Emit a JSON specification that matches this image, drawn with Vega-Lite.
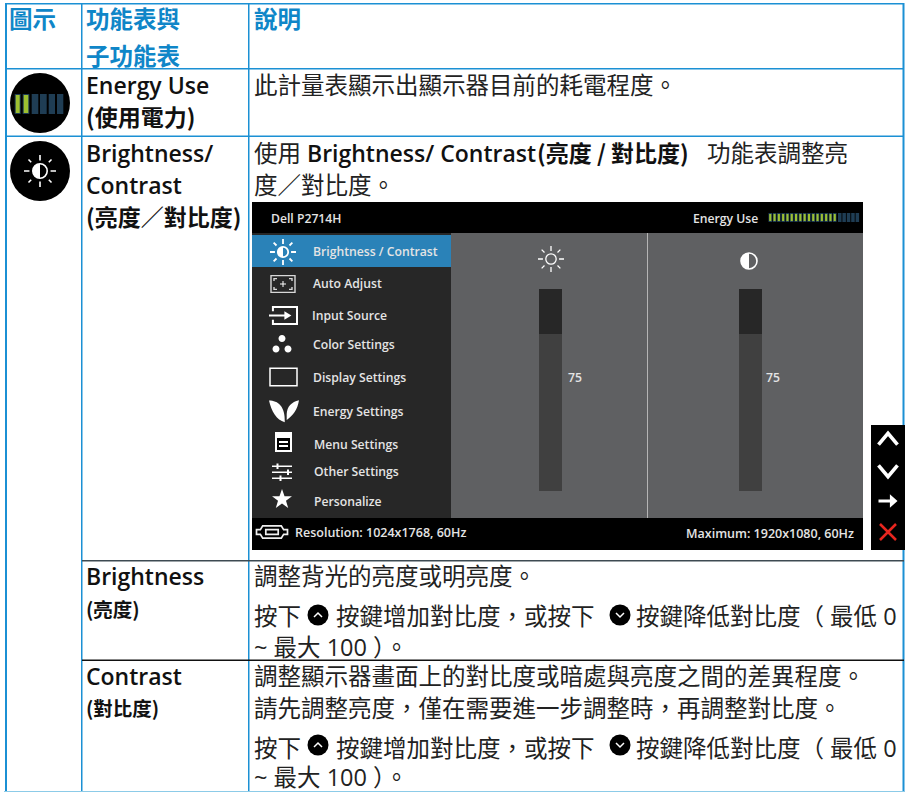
{"$schema":"https://vega.github.io/schema/vega-lite/v6.json","width":909,"height":792,"padding":0,"autosize":{"type":"fit","contains":"padding"},"background":"white","config":{"view":{"stroke":null}},
"datasets":{
"rects":[
{"part":"tableBlue","x":5,"x2":904,"y":3,"y2":4.5},
{"part":"tableBlue","x":5,"x2":904,"y":68,"y2":69.5},
{"part":"tableBlue","x":5,"x2":904,"y":135.5,"y2":137},
{"part":"tableBlue","x":5,"x2":7,"y":3,"y2":792},
{"part":"tableBlue","x":81,"x2":82.5,"y":3,"y2":792},
{"part":"tableBlue","x":248,"x2":249.5,"y":3,"y2":792},
{"part":"tableBlue","x":902.5,"x2":904.5,"y":3,"y2":792},
{"part":"tableLight","x":4,"x2":904,"y":791,"y2":792},
{"part":"rowDark","x":82,"x2":904,"y":560,"y2":561.5},
{"part":"rowBlack","x":82,"x2":904,"y":659.5,"y2":661},
{"part":"black","x":252,"x2":863,"y":202,"y2":233},
{"part":"black","x":252,"x2":863,"y":518,"y2":550},
{"part":"menu","x":252,"x2":451,"y":233,"y2":518},
{"part":"panel","x":451,"x2":863,"y":233,"y2":518},
{"part":"highlight","x":252,"x2":451,"y":235,"y2":267},
{"part":"divider","x":647,"x2":648,"y":233,"y2":518},
{"part":"trackTop","x":539,"x2":562,"y":289,"y2":334},
{"part":"track","x":539,"x2":562,"y":334,"y2":491},
{"part":"trackTop","x":739,"x2":762,"y":289,"y2":334},
{"part":"track","x":739,"x2":762,"y":334,"y2":491},
{"part":"black","x":871,"x2":905,"y":425,"y2":550},
{"part":"dimBlue","x":14.7,"x2":20.7,"y":94,"y2":114},
{"part":"green","x":15.7,"x2":19.7,"y":95,"y2":113},
{"part":"dimBlue","x":22.7,"x2":29.3,"y":94,"y2":114},
{"part":"green","x":23.7,"x2":28.3,"y":95,"y2":113},
{"part":"dimBlue","x":31.7,"x2":38.3,"y":94,"y2":114},
{"part":"dimBlue","x":40,"x2":46.7,"y":94,"y2":114},
{"part":"dimBlue","x":48.7,"x2":55,"y":94,"y2":114},
{"part":"dimBlue","x":57,"x2":63.3,"y":94,"y2":114},
{"part":"dimBlue","x":768.5,"x2":772,"y":213,"y2":222},
{"part":"dimBlue","x":772.8,"x2":776.3,"y":213,"y2":222},
{"part":"dimBlue","x":777.1,"x2":780.6,"y":213,"y2":222},
{"part":"dimBlue","x":781.4,"x2":784.9,"y":213,"y2":222},
{"part":"dimBlue","x":785.7,"x2":789.2,"y":213,"y2":222},
{"part":"dimBlue","x":790,"x2":793.5,"y":213,"y2":222},
{"part":"dimBlue","x":794.3,"x2":797.8,"y":213,"y2":222},
{"part":"dimBlue","x":798.6,"x2":802.1,"y":213,"y2":222},
{"part":"dimBlue","x":802.9,"x2":806.4,"y":213,"y2":222},
{"part":"dimBlue","x":807.2,"x2":810.7,"y":213,"y2":222},
{"part":"dimBlue","x":811.5,"x2":815,"y":213,"y2":222},
{"part":"dimBlue","x":815.8,"x2":819.3,"y":213,"y2":222},
{"part":"dimBlue","x":820.1,"x2":823.6,"y":213,"y2":222},
{"part":"dimBlue","x":824.4,"x2":827.9,"y":213,"y2":222},
{"part":"dimBlue","x":828.7,"x2":832.2,"y":213,"y2":222},
{"part":"dimBlue","x":833,"x2":836.5,"y":213,"y2":222},
{"part":"dimBlue","x":838,"x2":841.5,"y":213,"y2":222},
{"part":"dimBlue","x":842.4,"x2":845.9,"y":213,"y2":222},
{"part":"dimBlue","x":846.8,"x2":850.3,"y":213,"y2":222},
{"part":"dimBlue","x":851.2,"x2":854.7,"y":213,"y2":222},
{"part":"dimBlue","x":855.6,"x2":859.1,"y":213,"y2":222},
{"part":"green","x":769.2,"x2":771.3,"y":214,"y2":221},
{"part":"green","x":773.5,"x2":775.6,"y":214,"y2":221},
{"part":"green","x":777.8,"x2":779.9,"y":214,"y2":221},
{"part":"green","x":782.1,"x2":784.2,"y":214,"y2":221},
{"part":"green","x":786.4,"x2":788.5,"y":214,"y2":221},
{"part":"green","x":790.7,"x2":792.8,"y":214,"y2":221},
{"part":"green","x":795,"x2":797.1,"y":214,"y2":221},
{"part":"green","x":799.3,"x2":801.4,"y":214,"y2":221},
{"part":"green","x":803.6,"x2":805.7,"y":214,"y2":221},
{"part":"green","x":807.9,"x2":810,"y":214,"y2":221},
{"part":"green","x":812.2,"x2":814.3,"y":214,"y2":221},
{"part":"green","x":816.5,"x2":818.6,"y":214,"y2":221},
{"part":"green","x":820.8,"x2":822.9,"y":214,"y2":221},
{"part":"green","x":825.1,"x2":827.2,"y":214,"y2":221},
{"part":"green","x":829.4,"x2":831.5,"y":214,"y2":221},
{"part":"green","x":833.7,"x2":835.8,"y":214,"y2":221},
{"part":"white","x":275,"x2":292,"y":432,"y2":452},
{"part":"black","x":277,"x2":290,"y":438,"y2":450},
{"part":"white","x":279,"x2":288,"y":441,"y2":443},
{"part":"white","x":279,"x2":288,"y":445,"y2":447},
{"part":"white","x":272,"x2":292,"y":465.5,"y2":467},
{"part":"white","x":272,"x2":292,"y":471.5,"y2":473},
{"part":"white","x":272,"x2":292,"y":477.5,"y2":479},
{"part":"white","x":276.5,"x2":278.5,"y":463.5,"y2":469},
{"part":"white","x":287,"x2":289,"y":469.5,"y2":475},
{"part":"white","x":279.5,"x2":281.5,"y":475.5,"y2":481},
{"part":"white","x":282.5,"x2":283.5,"y":281,"y2":287},
{"part":"white","x":280,"x2":286,"y":283.5,"y2":284.5}
],
"labels":[
{"group":"head","label":"圖示","x":9,"y":20},
{"group":"head","label":"功能表與","x":86,"y":20},
{"group":"head","label":"子功能表","x":86,"y":57},
{"group":"head","label":"說明","x":254,"y":20},
{"group":"latin","label":"Energy Use","x":86,"y":86},
{"group":"small","label":"(使用電力)","x":86,"y":118},
{"group":"latin","label":"Brightness/","x":86,"y":154},
{"group":"latin","label":"Contrast","x":86,"y":186},
{"group":"small","label":"(亮度／對比度)","x":86,"y":218},
{"group":"latin","label":"Brightness","x":86,"y":577},
{"group":"minor","label":"(亮度)","x":86,"y":610},
{"group":"latin","label":"Contrast","x":86,"y":677},
{"group":"minor","label":"(對比度)","x":86,"y":709},
{"group":"body","label":"此計量表顯示出顯示器目前的耗電程度。","x":254,"y":86},
{"group":"body","label":"使用","x":254,"y":154},
{"group":"latin","label":"Brightness/ Contrast","x":307,"y":154},
{"group":"small","label":"(亮度  /  對比度)","x":537,"y":154},
{"group":"body","label":"功能表調整亮","x":707,"y":154},
{"group":"body","label":"度／對比度。","x":254,"y":186},
{"group":"body","label":"調整背光的亮度或明亮度。","x":254,"y":577},
{"group":"body","label":"按下","x":254,"y":617},
{"group":"body","label":"按鍵增加對比度，或按下","x":336,"y":617},
{"group":"body","label":"按鍵降低對比度（ 最低 0","x":636,"y":617},
{"group":"body","label":"~ 最大 100 ）。","x":254,"y":648},
{"group":"body","label":"調整顯示器畫面上的對比度或暗處與亮度之間的差異程度。","x":254,"y":677},
{"group":"body","label":"請先調整亮度，僅在需要進一步調整時，再調整對比度。","x":254,"y":709},
{"group":"body","label":"按下","x":254,"y":749},
{"group":"body","label":"按鍵增加對比度，或按下","x":336,"y":749},
{"group":"body","label":"按鍵降低對比度（ 最低 0","x":636,"y":749},
{"group":"body","label":"~ 最大 100 ）。","x":254,"y":778},
{"group":"osd","label":"Dell P2714H","x":271,"y":219},
{"group":"osd","label":"Energy Use","x":693,"y":219},
{"group":"osd","label":"Brightness / Contrast","x":313,"y":252},
{"group":"osd","label":"Auto Adjust","x":313,"y":284},
{"group":"osd","label":"Input Source","x":312,"y":316},
{"group":"osd","label":"Color Settings","x":313,"y":345},
{"group":"osd","label":"Display Settings","x":313,"y":378},
{"group":"osd","label":"Energy Settings","x":313,"y":412},
{"group":"osd","label":"Menu Settings","x":314,"y":445},
{"group":"osd","label":"Other Settings","x":314,"y":472},
{"group":"osd","label":"Personalize","x":314,"y":502},
{"group":"foot","label":"Resolution: 1024x1768, 60Hz","x":295,"y":533},
{"group":"foot","label":"Maximum: 1920x1080, 60Hz","x":686,"y":534},
{"group":"osd","label":"75","x":568,"y":378},
{"group":"osd","label":"75","x":766,"y":378}
],
"marks":[
{"icon":"bigDisc","x":40,"y":103},{"icon":"bigDisc","x":40,"y":171},
{"icon":"keyDisc","x":318,"y":615},{"icon":"keyDisc","x":620,"y":615},{"icon":"keyDisc","x":318,"y":745},{"icon":"keyDisc","x":620,"y":745},
{"icon":"keyUp","x":318,"y":615},{"icon":"keyDown","x":620,"y":615},{"icon":"keyUp","x":318,"y":745},{"icon":"keyDown","x":620,"y":745},
{"icon":"sunSmall","x":40,"y":171},{"icon":"sunLarge","x":283,"y":252},{"icon":"sunPanel","x":551,"y":259},
{"icon":"contrast","x":749,"y":261},
{"icon":"star","x":282,"y":499.5},{"icon":"leaf","x":284,"y":411},{"icon":"dots","x":282,"y":345},
{"icon":"autoAdjust","x":283,"y":284},{"icon":"input","x":283,"y":315.5},{"icon":"display","x":283.5,"y":377},{"icon":"vga","x":272,"y":532},
{"icon":"up","x":888,"y":439},{"icon":"down","x":888,"y":471},{"icon":"arrow","x":888,"y":501},{"icon":"close","x":888,"y":532}
]},
"encoding":{
"x":{"field":"x","type":"quantitative","axis":null,"scale":{"domain":[0,909],"nice":false,"zero":false}},
"y":{"field":"y","type":"quantitative","axis":null,"scale":{"domain":[792,0],"nice":false,"zero":false}}},
"layer":[
{"data":{"name":"marks"},"transform":[{"filter":"datum.icon=='bigDisc'"}],"mark":{"type":"point","filled":true,"shape":"circle","size":3600,"color":"#000000","opacity":1}},
{"data":{"name":"rects"},"mark":{"type":"rect"},"encoding":{"x2":{"field":"x2"},"y2":{"field":"y2"},"color":{"field":"part","type":"nominal","legend":null,"scale":{"domain":["tableBlue","tableLight","rowDark","rowBlack","black","menu","panel","highlight","divider","trackTop","track","dimBlue","green","white"],"range":["#1b90d4","#8ccbe8","#3d4a52","#111111","#000000","#272727","#5f6062","#2a82b8","#b5b5b5","#272727","#404040","#1f3d54","#9dc030","#ffffff"]}}}},
{"data":{"name":"marks"},"transform":[{"filter":"datum.icon=='keyDisc'"}],"mark":{"type":"point","filled":true,"shape":"circle","size":441,"color":"#000000","opacity":1}},
{"data":{"name":"marks"},"transform":[{"filter":"datum.icon=='keyUp'"}],"mark":{"type":"point","filled":false,"shape":"M-1,0.5L0,-0.5L1,0.5","size":64,"color":"#ffffff","strokeWidth":1.5,"opacity":1}},
{"data":{"name":"marks"},"transform":[{"filter":"datum.icon=='keyDown'"}],"mark":{"type":"point","filled":false,"shape":"M-1,-0.5L0,0.5L1,-0.5","size":64,"color":"#ffffff","strokeWidth":1.5,"opacity":1}},
{"data":{"name":"marks"},"transform":[{"filter":"datum.icon=='sunSmall'"}],"mark":{"type":"point","filled":false,"shape":"M0,-1V-0.66M0,1V0.66M-1,0H-0.66M1,0H0.66M-0.72,-0.72L-0.55,-0.55M0.72,-0.72L0.55,-0.55M-0.72,0.72L-0.55,0.55M0.72,0.72L0.55,0.55M-0.45,0A0.45,0.45 0 1,1 0.45,0A0.45,0.45 0 1,1 -0.45,0Z","size":1024,"color":"#ffffff","strokeWidth":1.6,"opacity":1}},
{"data":{"name":"marks"},"transform":[{"filter":"datum.icon=='sunSmall'"}],"mark":{"type":"point","filled":true,"shape":"M0,-0.45A0.45,0.45 0 0,0 0,0.45Z","size":1024,"color":"#ffffff","opacity":1}},
{"data":{"name":"marks"},"transform":[{"filter":"datum.icon=='sunLarge'"}],"mark":{"type":"point","filled":false,"shape":"M0,-1V-0.62M0,1V0.62M-1,0H-0.62M1,0H0.62M-0.72,-0.72L-0.5,-0.5M0.72,-0.72L0.5,-0.5M-0.72,0.72L-0.5,0.5M0.72,0.72L0.5,0.5M-0.4,0A0.4,0.4 0 1,1 0.4,0A0.4,0.4 0 1,1 -0.4,0Z","size":676,"color":"#ffffff","strokeWidth":1.8,"opacity":1}},
{"data":{"name":"marks"},"transform":[{"filter":"datum.icon=='sunLarge'"}],"mark":{"type":"point","filled":true,"shape":"M0,-0.4A0.4,0.4 0 0,0 0,0.4Z","size":676,"color":"#ffffff","opacity":1}},
{"data":{"name":"marks"},"transform":[{"filter":"datum.icon=='sunPanel'"}],"mark":{"type":"point","filled":false,"shape":"M0,-1V-0.62M0,1V0.62M-1,0H-0.62M1,0H0.62M-0.72,-0.72L-0.5,-0.5M0.72,-0.72L0.5,-0.5M-0.72,0.72L-0.5,0.5M0.72,0.72L0.5,0.5M-0.4,0A0.4,0.4 0 1,1 0.4,0A0.4,0.4 0 1,1 -0.4,0Z","size":676,"color":"#ffffff","strokeWidth":1.3,"opacity":1}},
{"data":{"name":"marks"},"transform":[{"filter":"datum.icon=='contrast'"}],"mark":{"type":"point","filled":false,"shape":"M-1,0A1,1 0 1,1 1,0A1,1 0 1,1 -1,0Z","size":256,"color":"#ffffff","strokeWidth":1.6,"opacity":1}},
{"data":{"name":"marks"},"transform":[{"filter":"datum.icon=='contrast'"}],"mark":{"type":"point","filled":true,"shape":"M0,-1A1,1 0 0,0 0,1Z","size":256,"color":"#ffffff","opacity":1}},
{"data":{"name":"marks"},"transform":[{"filter":"datum.icon=='star'"}],"mark":{"type":"point","filled":true,"shape":"M0,-1L0.24,-0.31L0.95,-0.31L0.38,0.12L0.59,0.81L0,0.38L-0.59,0.81L-0.38,0.12L-0.95,-0.31L-0.24,-0.31Z","size":441,"color":"#ffffff","opacity":1}},
{"data":{"name":"marks"},"transform":[{"filter":"datum.icon=='leaf'"}],"mark":{"type":"point","filled":true,"shape":"M-1,-0.7C-0.4,-0.7 0.1,-0.3 0.05,0.75C-0.5,0.6 -0.85,0 -1,-0.7ZM0.18,0.2C0.2,-0.3 0.5,-0.6 1,-0.72C0.9,-0.1 0.6,0.3 0.18,0.6Z","size":900,"color":"#ffffff","opacity":1}},
{"data":{"name":"marks"},"transform":[{"filter":"datum.icon=='dots'"}],"mark":{"type":"point","filled":true,"shape":"M-0.35,-0.65A0.35,0.35 0 1,1 0.35,-0.65A0.35,0.35 0 1,1 -0.35,-0.65ZM-0.95,0.4A0.35,0.35 0 1,1 -0.25,0.4A0.35,0.35 0 1,1 -0.95,0.4ZM0.25,0.4A0.35,0.35 0 1,1 0.95,0.4A0.35,0.35 0 1,1 0.25,0.4Z","size":400,"color":"#ffffff","opacity":1}},
{"data":{"name":"marks"},"transform":[{"filter":"datum.icon=='autoAdjust'"}],"mark":{"type":"point","filled":false,"shape":"M-1,-0.7H1V0.7H-1ZM-0.75,-0.25V-0.45H-0.5M0.5,-0.45H0.75V-0.25M-0.75,0.25V0.45H-0.5M0.5,0.45H0.75V0.25","size":576,"color":"#d8d8d8","strokeWidth":1.4,"opacity":1}},
{"data":{"name":"marks"},"transform":[{"filter":"datum.icon=='input'"}],"mark":{"type":"point","filled":false,"shape":"M-0.72,-0.3V-0.6H1V0.6H-0.72V0.3M-1,0H0.2","size":784,"color":"#ffffff","strokeWidth":2,"opacity":1}},
{"data":{"name":"marks"},"transform":[{"filter":"datum.icon=='input'"}],"mark":{"type":"point","filled":true,"shape":"M0.1,-0.3L0.6,0L0.1,0.3Z","size":784,"color":"#ffffff","opacity":1}},
{"data":{"name":"marks"},"transform":[{"filter":"datum.icon=='display'"}],"mark":{"type":"point","filled":false,"shape":"M-1,-0.65H1V0.65H-1Z","size":729,"color":"#ffffff","strokeWidth":1.5,"opacity":1}},
{"data":{"name":"marks"},"transform":[{"filter":"datum.icon=='vga'"}],"mark":{"type":"point","filled":false,"shape":"M-1,-0.15H-0.75L-0.6,-0.4H0.6L0.75,-0.15H1V0.15H0.75L0.6,0.4H-0.6L-0.75,0.15H-1ZM-0.4,-0.15H0.4V0.15H-0.4Z","size":961,"color":"#f0f0f0","strokeWidth":1.7,"opacity":1}},
{"data":{"name":"marks"},"transform":[{"filter":"datum.icon=='up'"}],"mark":{"type":"point","filled":false,"shape":"M-1,0.6L0,-0.6L1,0.6","size":361,"color":"#ffffff","strokeWidth":3.6,"opacity":1}},
{"data":{"name":"marks"},"transform":[{"filter":"datum.icon=='down'"}],"mark":{"type":"point","filled":false,"shape":"M-1,-0.6L0,0.6L1,-0.6","size":361,"color":"#ffffff","strokeWidth":3.6,"opacity":1}},
{"data":{"name":"marks"},"transform":[{"filter":"datum.icon=='arrow'"}],"mark":{"type":"point","filled":true,"shape":"M-1,-0.15H0.2V-0.7L1,0L0.2,0.7V0.15H-1Z","size":361,"color":"#ffffff","opacity":1}},
{"data":{"name":"marks"},"transform":[{"filter":"datum.icon=='close'"}],"mark":{"type":"point","filled":false,"shape":"M-1,-1L1,1M-1,1L1,-1","size":256,"color":"#e8261f","strokeWidth":2.5,"opacity":1}},
{"data":{"name":"labels"},"transform":[{"filter":"datum.group=='head'"}],"mark":{"type":"text","align":"left","baseline":"middle","dy":1,"font":"Noto Sans CJK TC","fontWeight":"bold","fontSize":23.5,"color":"#0f86c8"},"encoding":{"text":{"field":"label"}}},
{"data":{"name":"labels"},"transform":[{"filter":"datum.group=='latin'"}],"mark":{"type":"text","align":"left","baseline":"middle","dy":1,"font":"Open Sans, Noto Sans CJK TC","fontWeight":600,"fontSize":23,"color":"#111111"},"encoding":{"text":{"field":"label"}}},
{"data":{"name":"labels"},"transform":[{"filter":"datum.group=='small'"}],"mark":{"type":"text","align":"left","baseline":"middle","dy":1,"font":"Noto Sans CJK TC","fontWeight":"bold","fontSize":23,"color":"#111111"},"encoding":{"text":{"field":"label"}}},
{"data":{"name":"labels"},"transform":[{"filter":"datum.group=='minor'"}],"mark":{"type":"text","align":"left","baseline":"middle","dy":1,"font":"Noto Sans CJK TC","fontWeight":"bold","fontSize":19.5,"color":"#111111"},"encoding":{"text":{"field":"label"}}},
{"data":{"name":"labels"},"transform":[{"filter":"datum.group=='body'"}],"mark":{"type":"text","align":"left","baseline":"middle","dy":1,"font":"Open Sans, Noto Sans CJK TC","fontSize":23.5,"color":"#222222"},"encoding":{"text":{"field":"label"}}},
{"data":{"name":"labels"},"transform":[{"filter":"datum.group=='osd'"}],"mark":{"type":"text","align":"left","baseline":"middle","font":"Open Sans","fontWeight":600,"fontSize":12.2,"color":"#e4e4e4"},"encoding":{"text":{"field":"label"}}},
{"data":{"name":"labels"},"transform":[{"filter":"datum.group=='foot'"}],"mark":{"type":"text","align":"left","baseline":"middle","font":"Open Sans","fontWeight":600,"fontSize":12.5,"color":"#e4e4e4"},"encoding":{"text":{"field":"label"}}}
]}
